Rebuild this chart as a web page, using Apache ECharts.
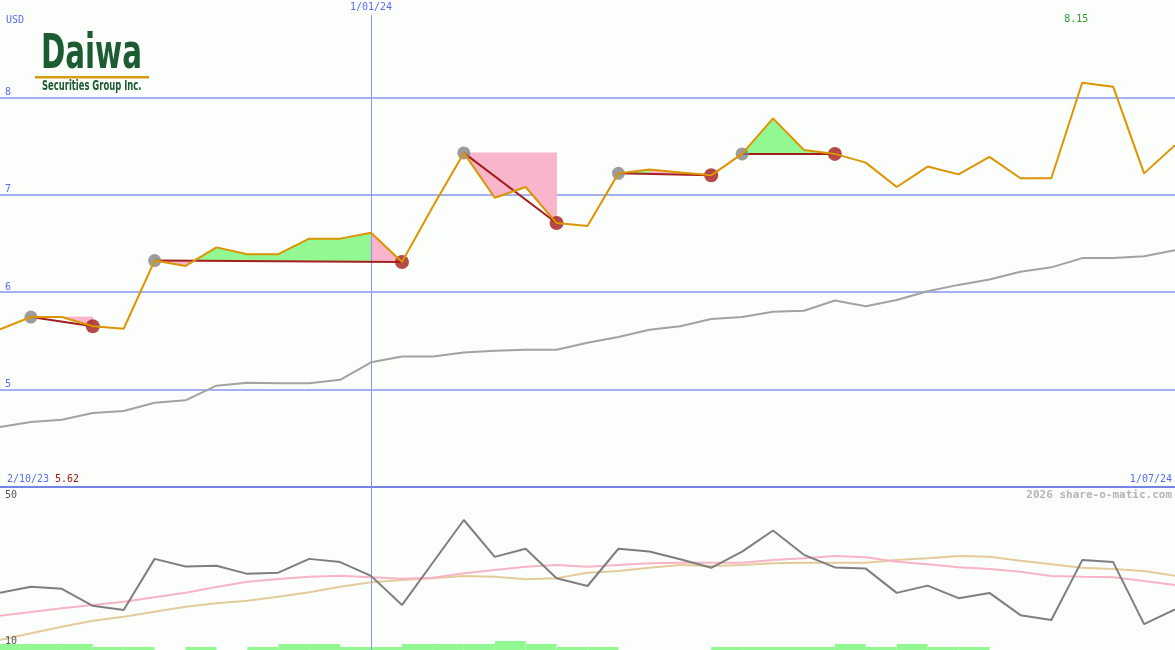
<!DOCTYPE html>
<html><head><meta charset="utf-8">
<script src="https://cdn.jsdelivr.net/npm/echarts/dist/echarts.min.js"></script>
<style>html,body{margin:0;padding:0;background:#fbfefb}#c{width:1175px;height:650px}</style>
</head><body><div id="c"></div><script>
const weeks = ['9/10/23','16/10/23','23/10/23','30/10/23','6/11/23','13/11/23','20/11/23','27/11/23','4/12/23','11/12/23','18/12/23','25/12/23','1/01/24','8/01/24','15/01/24','22/01/24','29/01/24','5/02/24','12/02/24','19/02/24','26/02/24','4/03/24','11/03/24','18/03/24','25/03/24','1/04/24','8/04/24','15/04/24','22/04/24','29/04/24','6/05/24','13/05/24','20/05/24','27/05/24','3/06/24','10/06/24','17/06/24','24/06/24','1/07/24'];
const price = [5.62,5.745,5.745,5.65,5.625,6.325,6.27,6.46,6.39,6.39,6.55,6.55,6.61,6.31,6.88,7.43,6.97,7.08,6.71,6.68,7.22,7.26,7.23,7.20,7.42,7.785,7.46,7.42,7.33,7.08,7.29,7.21,7.39,7.17,7.17,8.15,8.11,7.22,7.51];
const avg = [4.615,4.667,4.69,4.76,4.78,4.865,4.89,5.04,5.07,5.065,5.065,5.10,5.28,5.34,5.34,5.38,5.40,5.41,5.41,5.48,5.54,5.615,5.65,5.725,5.745,5.80,5.81,5.915,5.855,5.92,6.01,6.075,6.13,6.21,6.255,6.35,6.35,6.37,6.43];
const osc = [24.15,25.6,25.1,20.9,19.9,32.5,30.6,30.8,28.8,29.1,32.5,31.7,28.3,21.1,31.6,42.1,33.0,35.0,27.7,25.8,35.0,34.3,32.4,30.3,34.3,39.5,33.5,30.4,30.1,24.1,25.9,22.8,24.1,18.6,17.4,32.2,31.7,16.4,20.0];
const oscFast = [18.47,19.38,20.30,21.11,21.93,23.04,24.15,25.56,26.86,27.53,28.10,28.35,27.95,27.60,27.85,28.94,29.75,30.57,30.99,30.57,30.99,31.41,31.56,31.56,31.56,32.22,32.64,33.21,32.89,31.80,31.16,30.42,30.0,29.33,28.27,28.10,27.95,27.04,26.05];
const oscSlow = [12.47,14.12,15.75,17.23,18.22,19.46,20.69,21.53,22.17,23.16,24.25,25.63,26.72,27.28,27.70,28.27,28.10,27.46,27.70,29.09,29.51,30.32,30.99,30.74,30.99,31.41,31.56,31.56,31.56,32.22,32.64,33.21,33.04,32.05,31.16,30.32,30.0,29.51,28.35];
const volume = [2,2,2,1,1,0,1,0,1,2,2,1,1,2,2,2,3,2,1,1,0,0,0,1,1,1,1,2,1,2,1,1,0,0,0,0,0,0];
const patternStart = [1,5,15,20,24];
const patternEnd = [3,13,18,23,27];
const patternTurn = [null,12,null,21,null];
const priceTicks = [5,6,7,8];
const oscTicks = [50,10];
const yearMark = '1/01/24';
const rangeStart = '2/10/23';
const currency = 'USD';
const credit = '2026 share-o-matic.com';

const BLUE = '#5a6af0', GRID = '#a3b1f2', GREEN = '#92f892', PINK = '#f9b5cb', VLINE = '#8797f2';
const MONO = '"DejaVu Sans Mono", monospace';
const LOGO_FONT = '"Liberation Sans Narrow", "DejaVu Sans Condensed", sans-serif';

const intervals = weeks.slice(0, -1).map((w, i) => w + '-' + weeks[i + 1]);
const fillData = [];
patternStart.forEach((s, p) => {
  const base = price[s];
  for (let i = s; i < patternEnd[p]; i++) {
    const turned = patternTurn[p] !== null && i >= patternTurn[p] ? 1 : 0;
    fillData.push([i, price[i], price[i + 1], base, turned]);
  }
});

const chart = echarts.init(document.getElementById('c'), null, {renderer: 'canvas'});
const series = [];
series.push({
  type: 'custom', xAxisIndex: 0, yAxisIndex: 0, z: 2, data: fillData,
  encode: {x: 0, y: [1, 2, 3]},
  renderItem: function (params, api) {
    const i = api.value(0), a = api.value(1), b = api.value(2), base = api.value(3), turned = api.value(4);
    const p0 = api.coord([i, a]), p1 = api.coord([i + 1, b]);
    const b0 = api.coord([i, base]), b1 = api.coord([i + 1, base]);
    const children = [];
    const poly = (pts, color) => children.push({type: 'polygon', shape: {points: pts},
      style: {fill: color, stroke: color, lineWidth: 0.8}});
    const da = a - base, db = b - base;
    if (turned) poly([p0, p1, b1, b0], PINK);
    else if (da * db >= 0) poly([p0, p1, b1, b0], (da + db) > 0 ? GREEN : PINK);
    else {
      const t = da / (da - db);
      const c = [p0[0] + t * (p1[0] - p0[0]), b0[1]];
      poly([p0, c, b0], da > 0 ? GREEN : PINK);
      poly([c, p1, b1], db > 0 ? GREEN : PINK);
    }
    return {type: 'group', children};
  },
  markLine: {
    silent: true, symbol: 'none', z: 5,
    lineStyle: {color: VLINE, width: 1, type: 'solid'},
    label: {show: true, position: 'end', formatter: yearMark, color: BLUE, fontFamily: MONO, fontSize: 10, distance: 3},
    data: [[{coord: [yearMark, 4]}, {coord: [yearMark, 8.846]}]]
  }
});
series.push({type: 'line', xAxisIndex: 0, yAxisIndex: 0, z: 6, data: avg, symbol: 'none',
  lineStyle: {color: '#a2a2a2', width: 2}});
patternStart.forEach((s, p) => {
  const e = patternEnd[p];
  series.push({type: 'line', xAxisIndex: 0, yAxisIndex: 0, z: 6, symbol: 'none', connectNulls: true,
    data: price.map((v, i) => (i === s || i === e) ? v : '-'),
    lineStyle: {color: '#a51e1e', width: 2}});
});
series.push({type: 'scatter', xAxisIndex: 0, yAxisIndex: 0, z: 7, symbolSize: 13,
  itemStyle: {color: '#838383'}, data: patternStart.map(s => [weeks[s], price[s]])});
series.push({type: 'scatter', xAxisIndex: 0, yAxisIndex: 0, z: 7, symbolSize: 14,
  itemStyle: {color: '#a31c1c'}, data: patternEnd.map(e => [weeks[e], price[e]])});
series.push({type: 'line', xAxisIndex: 0, yAxisIndex: 0, z: 8, data: price, symbol: 'none',
  lineStyle: {color: '#dc9500', width: 2}});
series.push({type: 'line', xAxisIndex: 1, yAxisIndex: 1, z: 3, data: oscSlow, symbol: 'none',
  lineStyle: {color: '#e4cb9c', width: 2},
  markLine: {silent: true, symbol: 'none', label: {show: false}, lineStyle: {color: VLINE, width: 1, type: 'solid'}, data: [{xAxis: yearMark}]}});
series.push({type: 'line', xAxisIndex: 1, yAxisIndex: 1, z: 4, data: oscFast, symbol: 'none',
  lineStyle: {color: '#f8b4c6', width: 2}});
series.push({type: 'line', xAxisIndex: 1, yAxisIndex: 1, z: 6, data: osc, symbol: 'none',
  lineStyle: {color: '#7e7e7e', width: 2}});
series.push({type: 'bar', xAxisIndex: 2, yAxisIndex: 2, z: 2, data: volume, barWidth: '100%',
  itemStyle: {color: GREEN}});

const hidden = {axisLine: {show: false}, axisTick: {show: false}, axisLabel: {show: false}, splitLine: {show: false}};
chart.setOption({
  animation: false,
  backgroundColor: '#fbfefb',
  grid: [
    {left: 0, right: 0, top: 0, height: 487},
    {left: 0, right: 0, top: 488, height: 162},
    {left: 0, right: 0, bottom: 0, height: 30}
  ],
  xAxis: [
    {type: 'category', gridIndex: 0, data: weeks, boundaryGap: false,
      axisLine: {show: true, lineStyle: {color: '#7383e6', width: 2}}, axisTick: {show: false}, axisLabel: {show: false}, splitLine: {show: false}},
    Object.assign({type: 'category', gridIndex: 1, data: weeks, boundaryGap: false}, hidden),
    Object.assign({type: 'category', gridIndex: 2, data: intervals, boundaryGap: true}, hidden)
  ],
  yAxis: [
    {type: 'value', gridIndex: 0, min: 4, max: 9, interval: 1,
      axisLine: {show: false}, axisTick: {show: false},
      axisLabel: {inside: true, margin: 5, verticalAlign: 'bottom', color: BLUE, fontFamily: MONO, fontSize: 10,
        formatter: v => priceTicks.includes(v) ? String(v) : ''},
      splitLine: {show: true, lineStyle: {width: 2, color: ['rgba(0,0,0,0)', GRID, GRID, GRID, GRID, 'rgba(0,0,0,0)']}}},
    Object.assign({type: 'value', gridIndex: 1, min: 10, max: 50}, hidden),
    Object.assign({type: 'value', gridIndex: 2, min: 0, max: 10}, hidden)
  ],
  series
});

const maxIdx = price.indexOf(Math.max(...price));
const maxX = chart.convertToPixel({xAxisIndex: 0}, weeks[maxIdx]);
const txt = (text, x, y, color, align, extra) => Object.assign({type: 'text', x, y, z: 20,
  style: Object.assign({text, fill: color, font: '10px ' + MONO, align: align || 'left', verticalAlign: 'top'}, extra || {})});
chart.setOption({graphic: [
  txt(currency, 6, 15, BLUE),
  txt(Math.max(...price).toFixed(2), maxX - 6, 14, '#2e9a2e', 'center'),
  txt(rangeStart, 7, 474, BLUE),
  txt(price[0].toFixed(2), 55, 474, '#a01818'),
  txt(weeks[weeks.length - 1], 1172, 474, BLUE, 'right'),
  txt(credit, 1172, 490, '#b5b5b5', 'right', {font: 'bold 11px ' + MONO}),
  txt(String(oscTicks[0]), 5, 490, '#555555'),
  txt(String(oscTicks[1]), 5, 636, '#555555'),
  {type: 'group', x: 41, y: 55.5, scaleX: 0.775, scaleY: 1.15, z: 20, children: [
    {type: 'text', style: {text: 'Daiwa', font: 'bold 42px ' + LOGO_FONT, fill: '#1d5b32', verticalAlign: 'middle'}}
  ]},
  {type: 'rect', z: 20, shape: {x: 35, y: 76, width: 114, height: 2.5}, style: {fill: '#d89a10'}},
  {type: 'group', x: 42, y: 86.2, scaleX: 0.78, scaleY: 1.16, z: 20, children: [
    {type: 'text', style: {text: 'Securities Group Inc.', font: 'bold 12px ' + LOGO_FONT, fill: '#1d5b32', verticalAlign: 'middle'}}
  ]}
]});
</script></body></html>
